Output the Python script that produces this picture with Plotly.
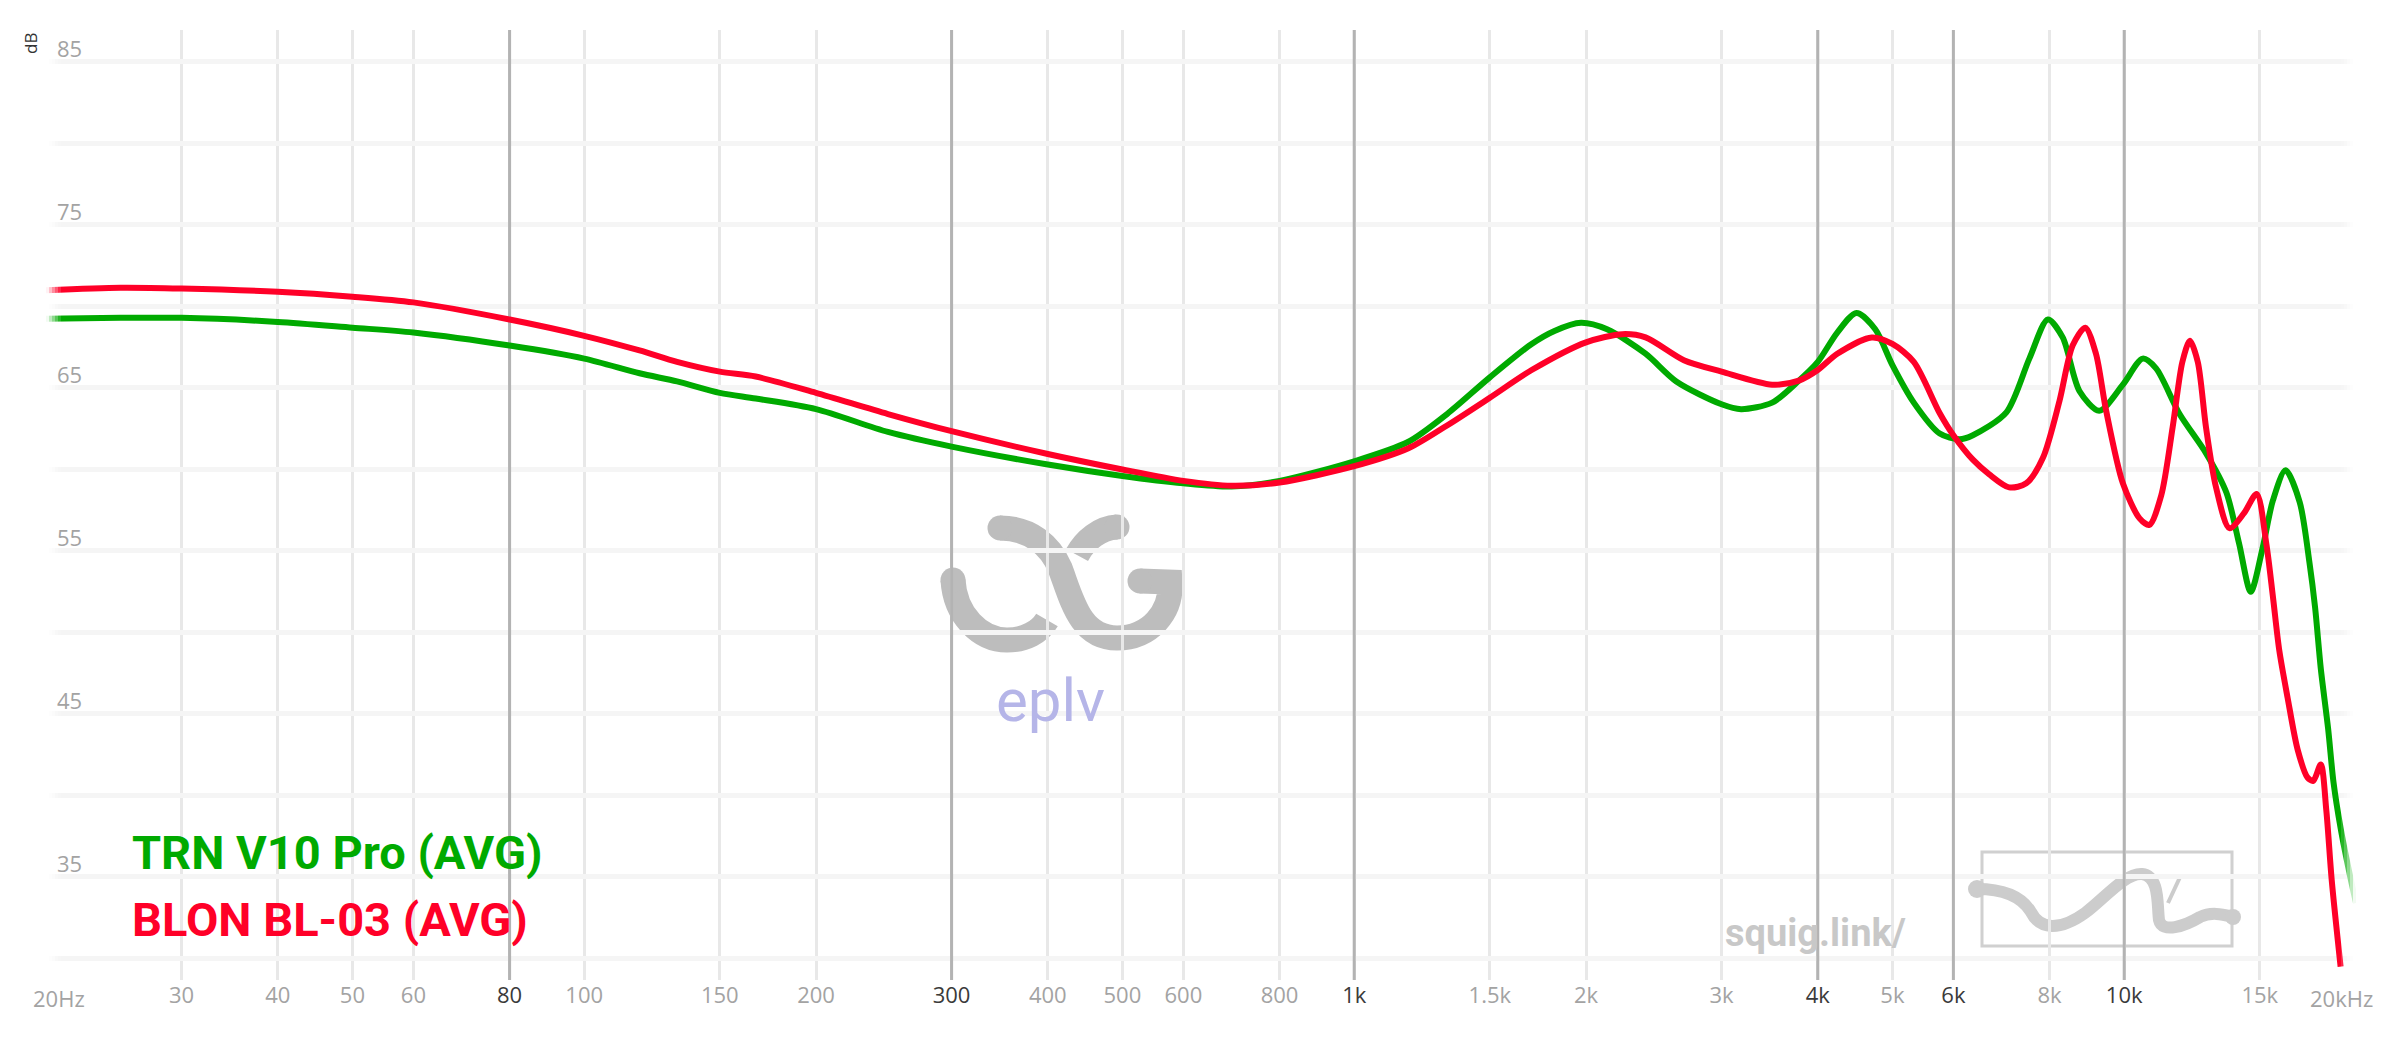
import math
import plotly.graph_objects as go

# ---------------- data ----------------
freq_green = [20, 25, 30, 40, 50, 60, 80, 100, 118, 132, 150, 167, 200, 248, 300, 400, 500, 600, 693, 800,
              1000, 1176, 1320, 1500, 1700, 1820, 1970, 2130, 2390, 2620, 3000, 3180, 3490, 3780, 4000, 4240,
              4490, 4750, 5000, 5330, 5760, 6110, 6360, 7030, 7530, 7960, 8320, 8750, 9280, 9960, 10570, 11000,
              11800, 12770, 13570, 14100, 14600, 15130, 15600, 16200, 16900, 17400, 17700, 18000, 18400, 18700,
              19100, 19700, 20000]
db_green = [69.25, 69.3, 69.3, 69.05, 68.7, 68.4, 67.6, 66.8, 65.9, 65.4, 64.7, 64.35, 63.7, 62.3, 61.4, 60.3,
            59.6, 59.15, 58.95, 59.3, 60.5, 61.7, 63.4, 65.65, 67.7, 68.5, 69.0, 68.6, 67.1, 65.4, 64.0, 63.7,
            64.1, 65.45, 66.6, 68.4, 69.6, 68.6, 66.4, 64.1, 62.2, 61.85, 62.1, 63.5, 66.8, 69.2, 68.1, 64.8,
            63.6, 65.2, 66.8, 66.2, 63.4, 61.0, 58.6, 55.45, 52.5, 55.2, 58.1, 59.95, 58.0, 54.3, 51.5, 47.8,
            44.1, 40.8, 38.0, 34.8, 33.4]

freq_red = [20, 25, 30, 40, 50, 60, 80, 100, 118, 132, 150, 167, 200, 248, 300, 400, 500, 600, 693, 800,
            1000, 1176, 1320, 1500, 1700, 2000, 2230, 2390, 2680, 3000, 3490, 3780, 4000, 4240, 4700, 5000,
            5330, 5760, 6000, 6360, 6680, 7090, 7460, 7840, 8240, 8570, 8900, 9190, 9470, 9960, 10470, 10780,
            11170, 11560, 11900, 12170, 12460, 12770, 13160, 13700, 14300, 14860, 15300, 15600, 15900, 16300,
            16800, 17300, 17600, 18000, 18300, 18600, 19100]
db_red = [71.0, 71.15, 71.1, 70.9, 70.6, 70.25, 69.2, 68.2, 67.3, 66.6, 66.0, 65.7, 64.7, 63.4, 62.35, 60.95,
          60.0, 59.3, 59.0, 59.2, 60.2, 61.3, 62.7, 64.4, 66.1, 67.8, 68.3, 68.1, 66.7, 66.0, 65.2, 65.45, 66.1,
          67.1, 68.1, 67.7, 66.6, 63.45, 62.1, 60.6, 59.7, 58.9, 59.15, 60.7, 64.2, 67.6, 68.7, 67.1, 63.65,
          59.15, 57.0, 56.6, 58.4, 62.6, 66.6, 67.9, 66.6, 62.6, 58.9, 56.4, 57.3, 58.5, 55.4, 52.2, 48.9, 46.0,
          42.8, 41.1, 40.9, 41.9, 39.1, 34.8, 29.5]

names = ["TRN V10 Pro (AVG)", "BLON BL-03 (AVG)"]
colors = ["#00aa00", "#ff0028"]

x_tick_vals = [30, 40, 50, 60, 80, 100, 150, 200, 300, 400, 500, 600, 800, 1000, 1500, 2000, 3000, 4000,
               5000, 6000, 8000, 10000, 15000]
x_tick_text = ["30", "40", "50", "60", "80", "100", "150", "200", "300", "400", "500", "600", "800", "1k",
               "1.5k", "2k", "3k", "4k", "5k", "6k", "8k", "10k", "15k"]
dark_ticks = [80, 300, 1000, 4000, 6000, 10000]
y_grid_vals = [30, 35, 40, 45, 50, 55, 60, 65, 70, 75, 80, 85]
y_label_vals = [85, 75, 65, 55, 45, 35]

# ---------------- geometry ----------------
W, H = 2400, 1038
ML, MR, MT, MB = 46, 44, 30, 58
PW, PH = W - ML - MR, H - MT - MB
Y_RANGE = [28.68, 86.96]


def px(x, y):
    return (x - ML) / PW, (H - MB - y) / PH


def path(points_str):
    out = []
    for tok in points_str.split():
        if tok[0].isalpha():
            out.append(tok)
        else:
            a, b = tok.split(",")
            u, v = px(float(a), float(b))
            out.append(f"{u:.5f},{v:.5f}")
    return " ".join(out)


fig = go.Figure()

# dark grid lines
gx, gy = [], []
for f in dark_ticks:
    gx += [f, f, None]
    gy += [Y_RANGE[0], Y_RANGE[1], None]
fig.add_trace(go.Scatter(x=gx, y=gy, mode="lines", line=dict(color="#b3b3b3", width=3),
                         hoverinfo="skip", showlegend=False))

for fr, db, nm, c in [(freq_green, db_green, names[0], colors[0]), (freq_red, db_red, names[1], colors[1])]:
    fig.add_trace(go.Scatter(x=fr, y=db, name=nm, mode="lines",
                             line=dict(color=c, width=6, shape="spline", smoothing=0.8),
                             showlegend=False))

ticktext = [f'<span style="color:#3a3a3a">{t}</span>' if v in dark_ticks else t
            for v, t in zip(x_tick_vals, x_tick_text)]

shapes = []
# watermark logo (eplv)
logo_col = "#bdbdbd"
for p in ["M 953,580 C 955,615 980,640 1007,640 C 1025,640 1040,632 1047,620",
          "M 1000,528 C 1030,528 1050,545 1060,568 C 1072,600 1080,638 1117,638 C 1150,638 1172,612 1170,582 L 1140,581",
          "M 1077,555 C 1085,540 1100,528 1117,527"]:
    shapes.append(dict(type="path", xref="paper", yref="paper", path=path(p),
                       line=dict(color=logo_col, width=25), layer="below"))
for cx, cy in [(953, 580), (1000, 528), (1140, 581), (1117, 527)]:
    x0, y0 = px(cx - 12.5, cy + 12.5)
    x1, y1 = px(cx + 12.5, cy - 12.5)
    shapes.append(dict(type="circle", xref="paper", yref="paper", x0=x0, y0=y0, x1=x1, y1=y1,
                       fillcolor=logo_col, line=dict(width=0), layer="below"))

# squig.link box + squiggle
bx0, by0 = px(1982, 946)
bx1, by1 = px(2232, 852)
shapes.append(dict(type="rect", xref="paper", yref="paper", x0=bx0, y0=by0, x1=bx1, y1=by1,
                   line=dict(color="#d0d0d0", width=3), layer="below"))
shapes.append(dict(type="path", xref="paper", yref="paper",
                   path=path("M 1977,889 C 2005,889 2022,897 2031,912 C 2040,930 2060,931 2085,913 "
                             "C 2105,898 2125,873 2142,874 C 2160,876 2157,905 2159,920 C 2162,934 2185,926 2200,917 "
                             "C 2212,911 2225,915 2234,917"),
                   line=dict(color="#cccccc", width=12), layer="below"))
shapes.append(dict(type="path", xref="paper", yref="paper", path=path("M 2168,903 L 2181,875"),
                   line=dict(color="#cccccc", width=4), layer="below"))
for cx, cy, r in [(1977, 889, 9), (2233, 917, 8)]:
    x0, y0 = px(cx - r, cy + r)
    x1, y1 = px(cx + r, cy - r)
    shapes.append(dict(type="circle", xref="paper", yref="paper", x0=x0, y0=y0, x1=x1, y1=y1,
                       fillcolor="#cccccc", line=dict(width=0), layer="below"))

# edge fades
ops = [0.95, 0.75, 0.55, 0.35, 0.15]
for i, o in enumerate(ops):
    a, _ = px(ML + 3 * i, 0)
    b, _ = px(ML + 3 * (i + 1), 0)
    shapes.append(dict(type="rect", xref="paper", yref="paper", x0=a, x1=b, y0=0, y1=1,
                       fillcolor="white", opacity=o, line=dict(width=0), layer="above"))
    a, _ = px(W - MR - 3 * (i + 1), 0)
    b, _ = px(W - MR - 3 * i, 0)
    shapes.append(dict(type="rect", xref="paper", yref="paper", x0=a, x1=b, y0=0, y1=1,
                       fillcolor="white", opacity=o, line=dict(width=0), layer="above"))

annotations = []
for v in y_label_vals:
    annotations.append(dict(xref="paper", x=0, xanchor="left", xshift=9, yref="y", y=v, yanchor="middle",
                            yshift=14, text=str(v), showarrow=False,
                            font=dict(family="Open Sans", size=22, color="#a3a3a3")))
ux, uy = px(30, 44)
annotations.append(dict(xref="paper", yref="paper", x=ux, y=uy, text="dB", textangle=-90, showarrow=False,
                        xanchor="center", yanchor="middle", font=dict(family="Open Sans", size=17, color="#333")))
for txt, xs in [("20Hz", 13), ("20kHz", -15)]:
    annotations.append(dict(xref="paper", x=0 if xs > 0 else 1, xshift=xs, yref="paper", y=0,
                            yanchor="middle", yshift=-18, xanchor="center", text=txt, showarrow=False,
                            font=dict(family="Open Sans", size=22, color="#a3a3a3")))
for nm, c, yy in [(names[0], colors[0], 853), (names[1], colors[1], 919)]:
    lx, ly = px(130, yy)
    annotations.append(dict(xref="paper", yref="paper", x=lx, y=ly, xanchor="left", yanchor="middle",
                            text=nm, showarrow=False,
                            font=dict(family="Roboto", size=47, color=c, weight=700)))
ex, ey = px(1050, 700)
annotations.append(dict(xref="paper", yref="paper", x=ex, y=ey, text="eplv", showarrow=False,
                        xanchor="center", yanchor="middle",
                        font=dict(family="Roboto", size=60, color="#b5b5e8")))
sx, sy = px(1815, 933)
annotations.append(dict(xref="paper", yref="paper", x=sx, y=sy, text="squig.link/", showarrow=False,
                        xanchor="center", yanchor="middle",
                        font=dict(family="Roboto", size=38, color="#c8c8c8", weight=700)))

fig.update_layout(
    width=W, height=H,
    margin=dict(l=ML, r=MR, t=MT, b=MB, pad=0),
    paper_bgcolor="white", plot_bgcolor="white",
    showlegend=False,
    shapes=shapes, annotations=annotations,
    xaxis=dict(type="log", range=[math.log10(20), math.log10(20000)], tickvals=x_tick_vals,
               ticktext=ticktext, showgrid=True, gridcolor="#e8e8e8", gridwidth=3, zeroline=False,
               showline=False, ticks="", tickfont=dict(family="Open Sans", size=22, color="#a3a3a3")),
    yaxis=dict(range=Y_RANGE, tickvals=y_grid_vals, showticklabels=False, showgrid=True,
               gridcolor="#f5f5f5", gridwidth=5, zeroline=False, showline=False, ticks=""),
)

fig.write_html("out.html", config={"displayModeBar": False},
               post_script="document.body.style.margin='0';")
